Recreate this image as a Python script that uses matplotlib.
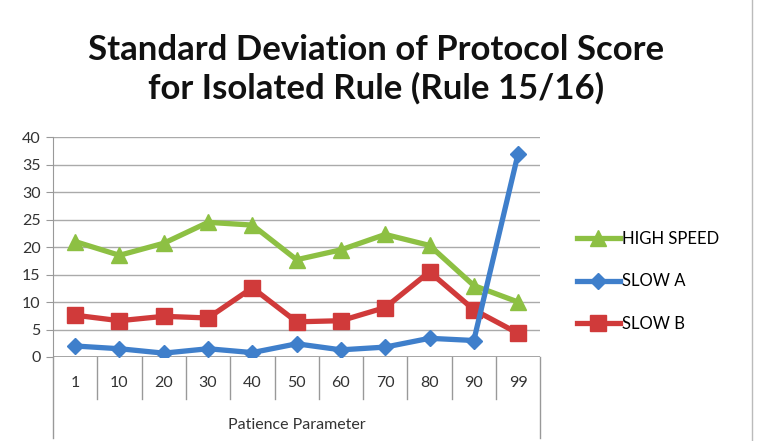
import matplotlib
matplotlib.use("Agg")
import matplotlib.pyplot as plt
import matplotlib.transforms as mtransforms

categories = ["1", "10", "20", "30", "40", "50", "60", "70", "80", "90", "99"]
high_speed = [21, 18.5, 20.7, 24.5, 24, 17.7, 19.5, 22.3, 20.3, 13, 10]
slow_a = [2, 1.5, 0.7, 1.5, 0.8, 2.4, 1.3, 1.8, 3.4, 3, 37]
slow_b = [7.6, 6.6, 7.4, 7.1, 12.6, 6.4, 6.6, 9, 15.5, 8.6, 4.3]
y_ticks = list(range(0, 41, 5))


def main():
    plt.rcParams['font.family'] = ['Lato', 'DejaVu Sans']
    fig = plt.figure(figsize=(7.62, 4.41), dpi=100)
    ax = fig.add_axes([0.0696, 0.1905, 0.6394, 0.4985])

    x = list(range(len(categories)))
    ax.plot(x, high_speed, color='#8dc043', lw=3.8, marker='^', ms=11,
            label='HIGH SPEED', zorder=3)
    ax.plot(x, slow_a, color='#3f7fcb', lw=3.8, marker='D', ms=8.5,
            label='SLOW A', zorder=4)
    ax.plot(x, slow_b, color='#d03a3a', lw=3.8, marker='s', ms=11,
            label='SLOW B', zorder=3)

    ax.set_xlim(-0.5, len(categories) - 0.5)
    ax.set_ylim(0, 40)
    ax.set_yticks(y_ticks)
    ax.tick_params(axis='y', labelsize=11.5, length=5, color='#999999', pad=4,
                   labelcolor='#333333')
    ax.set_xticks([])
    ax.yaxis.grid(True, color='#aaaaaa', lw=1)
    ax.set_axisbelow(True)
    for s in ['top', 'right', 'bottom']:
        ax.spines[s].set_visible(False)
    ax.spines['left'].set_color('#999999')
    ax.axhline(0, color='#999999', lw=1.2, zorder=2)

    # table-style category axis below the plot
    trans = mtransforms.blended_transform_factory(ax.transData, ax.transAxes)
    for i in range(1, len(categories)):
        ax.plot([i - 0.5, i - 0.5], [0, -0.19], transform=trans,
                color='#999999', lw=1, clip_on=False)
    for edge in [-0.5, len(categories) - 0.5]:
        ax.plot([edge, edge], [0, -0.37], transform=trans,
                color='#999999', lw=1, clip_on=False)
    for i, c in enumerate(categories):
        ax.text(i, -0.12, c, transform=trans, ha='center', va='center',
                fontsize=11.5, color='#333333')
    ax.text(0.5, -0.31, 'Patience Parameter', transform=ax.transAxes,
            ha='center', va='center', fontsize=11.5, color='#333333')

    fig.text(0.493, 0.843, 'Standard Deviation of Protocol Score\nfor Isolated Rule (Rule 15/16)',
             ha='center', va='center', fontsize=25, fontweight='bold',
             linespacing=1.25, color='#111111')

    fig.legend(loc='center left', bbox_to_anchor=(0.737, 0.362), frameon=False,
               fontsize=12, handlelength=2.6, handletextpad=0.1,
               labelspacing=1.6)

    fig.add_artist(plt.Line2D([0.987, 0.987], [0, 1], color='#bbbbbb', lw=1,
                              transform=fig.transFigure))

    fig.savefig('out.png', dpi=100)


if __name__ == "__main__":
    main()
